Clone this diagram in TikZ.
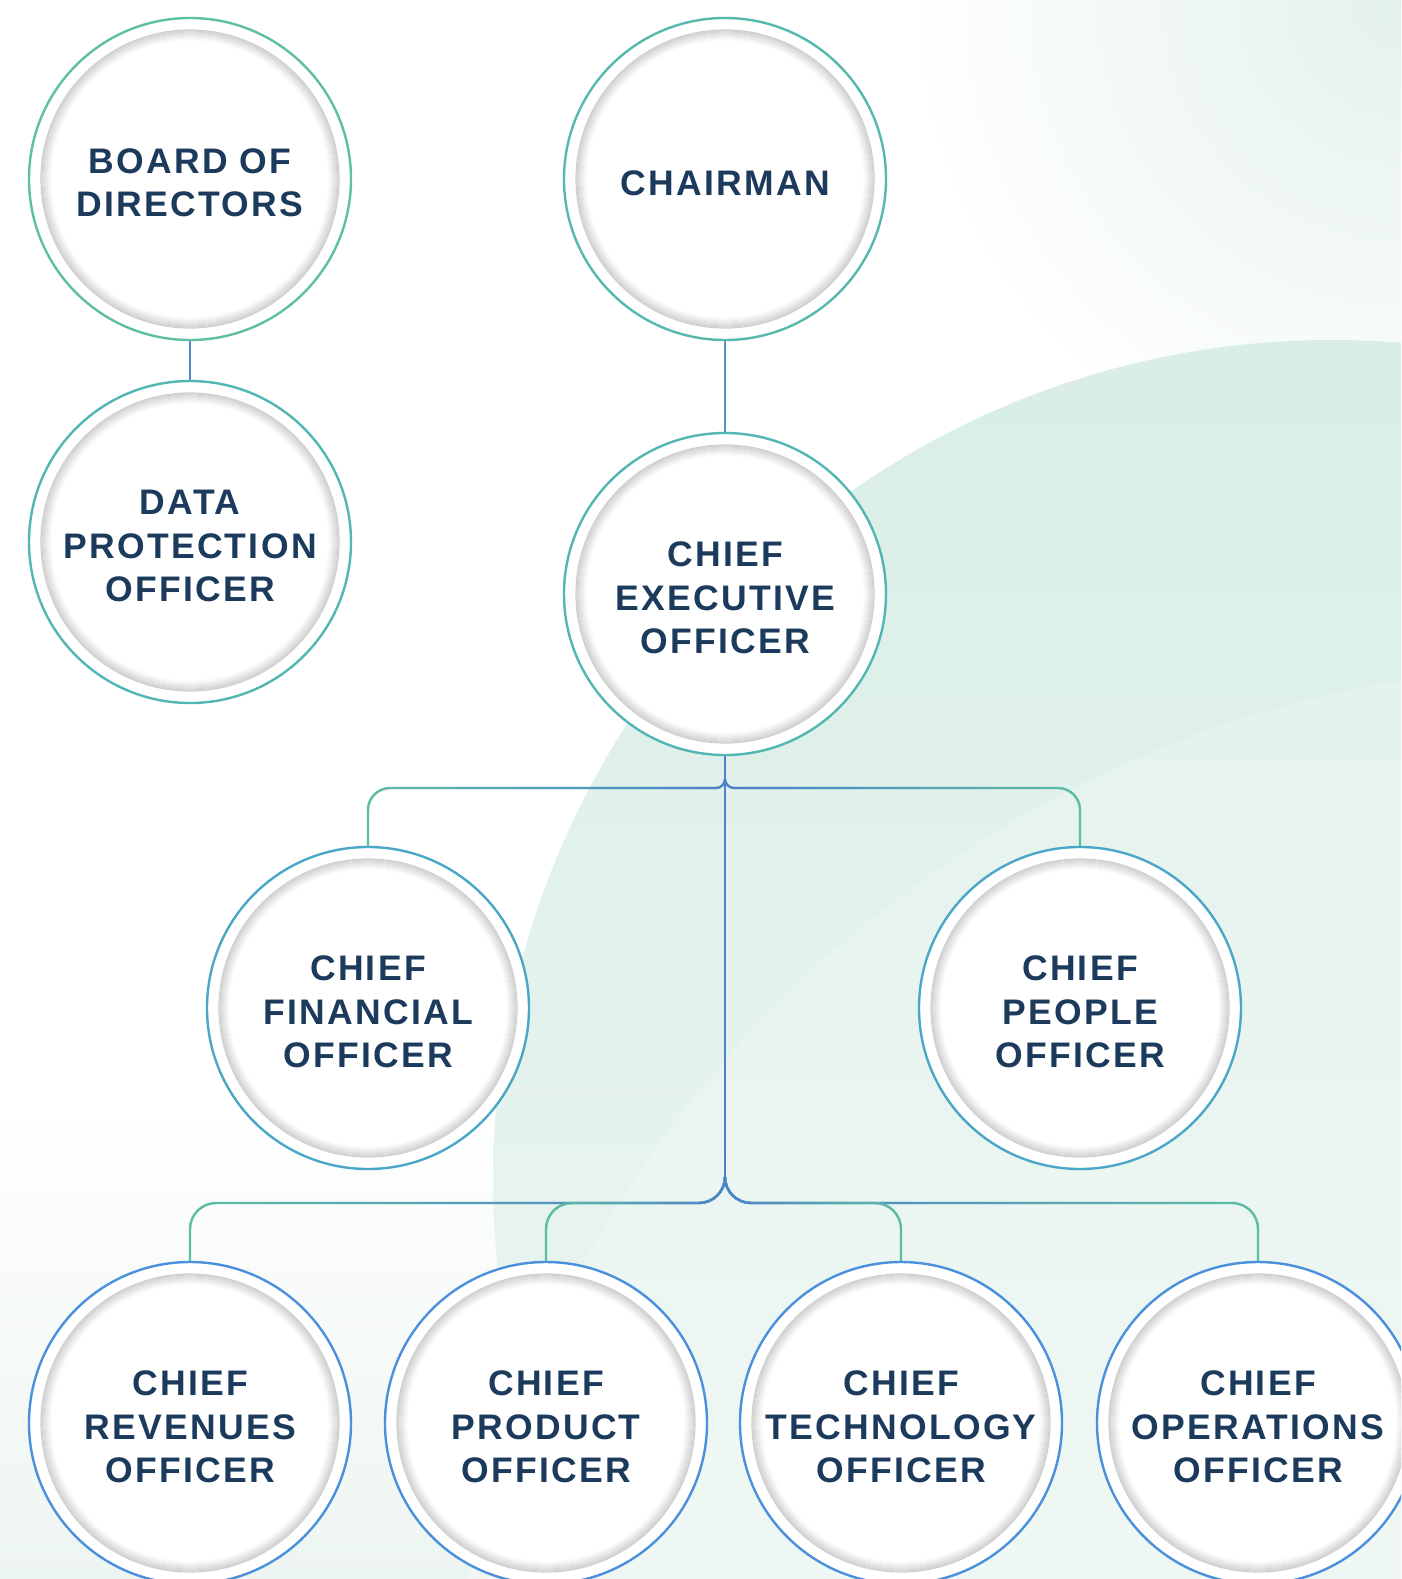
\documentclass[tikz,border=0pt]{standalone}
\usepackage{fontspec}
\setmainfont{Liberation Sans}
\newfontfamily\lblfont[LetterSpace=6.5]{Liberation Sans}
\usetikzlibrary{fadings,calc}
\definecolor{navy}{HTML}{1B3A5C}
\definecolor{tealC}{HTML}{5CBEA2}
\definecolor{blueC}{HTML}{4F80CF}
\definecolor{bGreen}{HTML}{5EC0A0}
\definecolor{bTeal}{HTML}{52B6B2}
\definecolor{bCyan}{HTML}{4BA7C8}
\definecolor{bBlue}{HTML}{4A90DC}
\definecolor{discTop}{HTML}{D9EEE7}
\definecolor{discBot}{HTML}{F3F8F6}
\definecolor{haze}{HTML}{EDF5F2}
\definecolor{glow}{HTML}{E3F1ED}
\tikzfading[name=fadeL, left color=transparent!100, right color=transparent!0]
\tikzfading[name=fadeR, left color=transparent!0, right color=transparent!100]
\begin{document}
\begin{tikzpicture}[x=1pt,y=-1pt,
  orgc/.style={circle, minimum size=322pt, inner sep=0pt, fill=white, draw=#1, line width=2.4pt},
  lbl/.style={text=navy, font=\lblfont\bfseries\fontsize{35.5}{43.3}\selectfont, align=center, inner sep=0pt},
  link/.style={line width=2.4pt, draw=#1},
  brL/.style={line width=2.4pt, draw=tealC, postaction={draw=blueC, path fading=fadeL}},
  brR/.style={line width=2.4pt, draw=tealC, postaction={draw=blueC, path fading=fadeR}},
]
\useasboundingbox (0,0) rectangle (1401,1579);
\clip (0,0) rectangle (1401,1579);
% background
\fill[white] (0,0) rectangle (1401,1579);
\shade[top color=white, bottom color=haze] (0,1100) rectangle (1401,1579);
\shade[inner color=glow, outer color=white] (1401,0) circle (500pt);
\shade[top color=discTop, bottom color=discBot] (1332,1179) circle (839pt);
\fill[white, opacity=0.2] (1590,1810) circle (1145pt);

% circles
\node[orgc=bGreen] (board) at (190,179) {};
\node[orgc=bTeal!70!bGreen] (chair) at (725,179) {};
\node[orgc=bTeal] (dpo) at (190,542) {};
\node[orgc=bTeal] (ceo) at (725,594) {};
\node[orgc=bCyan] (cfo) at (368,1008) {};
\node[orgc=bCyan] (cpo) at (1080,1008) {};
\node[orgc=bBlue] (cro) at (190,1423) {};
\node[orgc=bBlue] (cpd) at (546,1423) {};
\node[orgc=bBlue] (cto) at (901,1423) {};
\node[orgc=bBlue] (coo) at (1258,1423) {};

% inner shadow rings
\foreach \n in {board,chair,dpo,ceo,cfo,cpo,cro,cpd,cto,coo}{
  \foreach \k in {0,...,10}{
    \pgfmathsetmacro\g{19-1.75*\k}
    \draw[black!\g, line width=1.2pt] (\n.center) circle ({149-\k*1.0pt});
  }
}

% labels
\node[lbl] at ([yshift=-4pt]board.center) {BOARD OF\\DIRECTORS};
\node[lbl] at ([yshift=-4pt]chair.center) {CHAIRMAN};
\node[lbl] at ([yshift=-4pt]dpo.center) {DATA\\PROTECTION\\OFFICER};
\node[lbl] at ([yshift=-4pt]ceo.center) {CHIEF\\EXECUTIVE\\OFFICER};
\node[lbl] at ([yshift=-4pt]cfo.center) {CHIEF\\FINANCIAL\\OFFICER};
\node[lbl] at ([yshift=-4pt]cpo.center) {CHIEF\\PEOPLE\\OFFICER};
\node[lbl] at ([yshift=-4pt]cro.center) {CHIEF\\REVENUES\\OFFICER};
\node[lbl] at ([yshift=-4pt]cpd.center) {CHIEF\\PRODUCT\\OFFICER};
\node[lbl] at ([yshift=-4pt]cto.center) {CHIEF\\TECHNOLOGY\\OFFICER};
\node[lbl] at ([yshift=-4pt]coo.center) {CHIEF\\OPERATIONS\\OFFICER};

% connectors
\coordinate (j1) at (725,788);
\coordinate (j2) at (725,1203);
\draw[link=blueC!85!tealC] (board.south) -- (dpo.north);
\draw[link=blueC!65!tealC] (chair.south) -- (ceo.north);
\draw[link=blueC] (ceo.south) -- ($(j2)+(0,-26)$);
\draw[link=blueC, rounded corners=9pt] ($(j1)+(0,-9)$) -- (j1) -- ($(j1)+(-9,0)$);
\draw[link=blueC, rounded corners=9pt] ($(j1)+(0,-9)$) -- (j1) -- ($(j1)+(9,0)$);
\draw[brL, rounded corners=22pt] ($(j1)+(-9,0)$) -- (cfo.north |- j1) -- (cfo.north);
\draw[brR, rounded corners=22pt] ($(j1)+(9,0)$) -- (cpo.north |- j1) -- (cpo.north);
\draw[brL, rounded corners=26pt] ($(j2)+(0,-26)$) -- (j2) -- (cro.north |- j2) -- (cro.north);
\draw[brL, rounded corners=26pt] ($(j2)+(0,-26)$) -- (j2) -- (cpd.north |- j2) -- (cpd.north);
\draw[brR, rounded corners=26pt] ($(j2)+(0,-26)$) -- (j2) -- (coo.north |- j2) -- (coo.north);
\draw[brR, rounded corners=26pt] ($(j2)+(0,-26)$) -- (j2) -- (cto.north |- j2) -- (cto.north);
\end{tikzpicture}
\end{document}
